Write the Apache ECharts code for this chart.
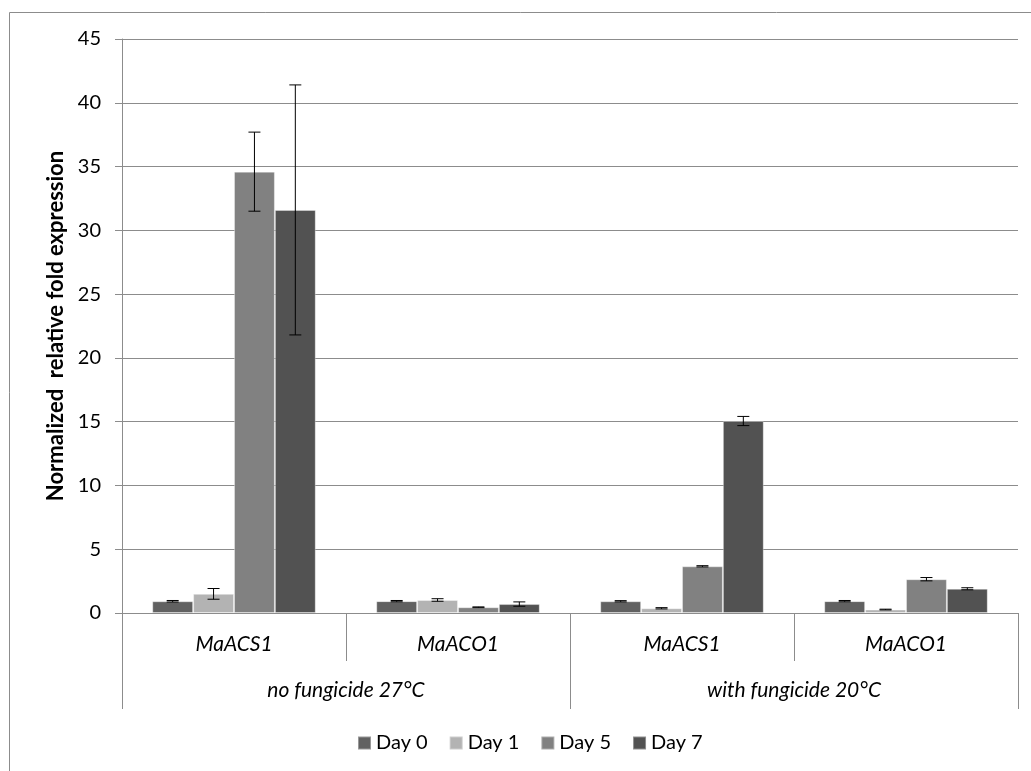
<!DOCTYPE html>
<html>
<head>
<meta charset="utf-8">
<script src="https://cdn.jsdelivr.net/npm/echarts@6/dist/echarts.min.js"></script>
<style>
html,body{margin:0;padding:0;background:#fff;}
#chart{width:1031px;height:771px;}
</style>
</head>
<body>
<div id="chart"></div>
<script>
// categories
var genes = ['MaACS1', 'MaACO1', 'MaACS1', 'MaACO1'];
var treatments = ['no fungicide 27°C', 'with fungicide 20°C'];
var seriesNames = ['Day 0', 'Day 1', 'Day 5', 'Day 7'];
var barColors = ['#616161', '#b3b3b3', '#818181', '#525252'];
// values
var day0 = [0.92, 0.93, 0.92, 0.93];
var day1 = [1.5, 1.02, 0.37, 0.27];
var day5 = [34.6, 0.45, 3.66, 2.65];
var day7 = [31.6, 0.7, 15.05, 1.9];
// error (+/-)
var day0Err = [0.06, 0.05, 0.05, 0.05];
var day1Err = [0.42, 0.1, 0.05, 0.03];
var day5Err = [3.1, 0.03, 0.05, 0.13];
var day7Err = [9.8, 0.17, 0.36, 0.08];

var allVals = [day0, day1, day5, day7];
var allErr = [day0Err, day1Err, day5Err, day7Err];
var catGap = 0.27; // barCategoryGap

var chart = echarts.init(document.getElementById('chart'));
var font = 'Lato, "Open Sans", sans-serif';

var series = [];
for (var s = 0; s < 4; s++) {
  series.push({
    name: seriesNames[s],
    type: 'bar',
    data: allVals[s],
    barGap: '0%',
    barCategoryGap: (catGap * 100) + '%',
    itemStyle: { color: barColors[s], borderColor: 'rgba(255,255,255,0.35)', borderWidth: 1 }
  });
}
// error bars
for (var s2 = 0; s2 < 4; s2++) {
  var errData = [];
  for (var k = 0; k < 4; k++) {
    errData.push([k, allVals[s2][k] - allErr[s2][k], allVals[s2][k] + allErr[s2][k], s2]);
  }
  series.push({
    type: 'custom',
    name: seriesNames[s2] + ' err',
    data: errData,
    z: 10,
    silent: true,
    encode: { x: 0, y: [1, 2] },
    renderItem: function (params, api) {
      var idx = api.value(0);
      var lo = api.coord([idx, api.value(1)]);
      var hi = api.coord([idx, api.value(2)]);
      var cw = api.size([1, 0])[0];
      var bw = cw * (1 - catGap) / 4;
      var x = lo[0] + (api.value(3) - 1.5) * bw;
      var half = 6;
      var st = { stroke: '#000', lineWidth: 1 };
      return {
        type: 'group',
        children: [
          { type: 'line', shape: { x1: x, y1: lo[1], x2: x, y2: hi[1] }, style: st },
          { type: 'line', shape: { x1: x - half, y1: lo[1], x2: x + half, y2: lo[1] }, style: st },
          { type: 'line', shape: { x1: x - half, y1: hi[1], x2: x + half, y2: hi[1] }, style: st }
        ]
      };
    }
  });
}

var option = {
  backgroundColor: '#fff',
  animation: false,
  textStyle: { fontFamily: font },
  graphic: [{
    type: 'rect',
    shape: { x: 9.5, y: 12.5, width: 1100, height: 900 },
    style: { fill: 'none', stroke: '#8c8c8c', lineWidth: 1 },
    silent: true
  }],
  legend: {
    data: seriesNames,
    bottom: 13,
    left: 352,
    itemWidth: 13,
    itemHeight: 13,
    itemGap: 21,
    icon: 'rect',
    textStyle: { fontSize: 20, color: '#000', fontFamily: font }
  },
  grid: { left: 122, right: 13, top: 39, bottom: 158 },
  xAxis: [{
    type: 'category',
    data: genes,
    position: 'bottom',
    axisLine: { lineStyle: { color: '#8c8c8c' } },
    axisTick: { show: true, length: 48, alignWithLabel: false, interval: 0, lineStyle: { color: '#8c8c8c' } },
    axisLabel: { margin: 21, fontSize: 21, fontStyle: 'italic', color: '#000', fontFamily: font },
    splitLine: { show: false }
  }, {
    type: 'category',
    data: treatments,
    position: 'bottom',
    axisLine: { show: false },
    axisTick: { show: true, length: 96, interval: 0, lineStyle: { color: '#8c8c8c' } },
    axisLabel: { margin: 67, fontSize: 21, fontStyle: 'italic', color: '#000', fontFamily: font },
    splitLine: { show: false }
  }],
  yAxis: {
    type: 'value',
    min: 0,
    max: 45,
    interval: 5,
    name: 'Normalized  relative fold expression',
    nameLocation: 'middle',
    nameGap: 53,
    nameTextStyle: { fontSize: 22, fontWeight: 'bold', color: '#000', fontFamily: font },
    axisLine: { show: true, lineStyle: { color: '#8c8c8c' } },
    axisTick: { show: true, length: 7, lineStyle: { color: '#8c8c8c' } },
    axisLabel: { margin: 21, fontSize: 20, color: '#000', fontFamily: font },
    splitLine: { lineStyle: { color: '#8c8c8c' } }
  },
  series: series
};
chart.setOption(option);
</script>
</body>
</html>
